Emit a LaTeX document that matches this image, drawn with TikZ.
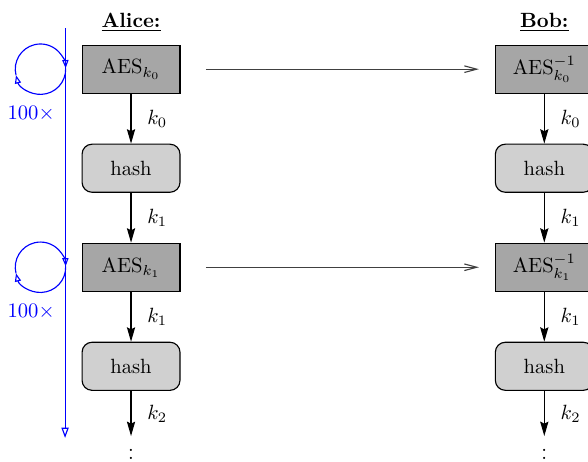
\documentclass[tikz,border=0pt]{standalone}
\usetikzlibrary{positioning}
\usetikzlibrary{arrows.meta}

\begin{document}
\begin{tikzpicture}[
        > = {Stealth[length=7pt,width=4pt,inset=1pt]}, % arrow head style
        node distance = 0.85cm, % gap between boxes
        line width = 0.55pt
    ]

    \tikzstyle{aes}=[draw, fill=gray!70, minimum width=1.67cm, minimum height=0.82cm]
    \tikzstyle{hash}=[aes, fill=gray!37, rounded corners=0.17cm]
    \tikzstyle{keylabel}=[right=0.15cm]
    \tikzstyle{send}=[-{Straight Barb[length=6pt,width=3.2pt]}, black!75, shorten <=0.43cm, shorten >=0.27cm]
    \tikzstyle{iter}=[blue, -{Triangle[open,length=4pt,width=3pt]}]

    \useasboundingbox (0,0) rectangle (10.03,-7.88);

    % Alice
    \node[aes] (A0) at (2.235,-1.18) {AES$_{k_0}$};
    \node[hash] (H0) [below=of A0] {hash};
    \node[aes] (A1) [below=of H0] {AES$_{k_1}$};
    \node[hash] (H1) [below=of A1] {hash};
    \node[inner sep=0] (Adots) [below=0.77cm of H1] {$\vdots$};
    \node (alice) [above=0.1cm of A0] {\underline{\textbf{Alice:}}};

    % Bob
    \node[aes] (B0) [right=5.36cm of A0] {AES$_{k_0}^{-1}$};
    \node[hash] (BH0) [below=of B0] {hash};
    \node[aes] (B1) [below=of BH0] {AES$_{k_1}^{-1}$};
    \node[hash] (BH1) [below=of B1] {hash};
    \node[inner sep=0] (Bdots) [below=0.77cm of BH1] {$\vdots$};
    \node (bob) [above=0.1cm of B0] {\underline{\textbf{Bob:}}};

    \path[->]
        (A0)  edge node[keylabel] {$k_0$} (H0)
        (H0)  edge node[keylabel] {$k_1$} (A1)
        (A1)  edge node[keylabel] {$k_1$} (H1)
        (H1)  edge node[keylabel] {$k_2$} (Adots)
        (B0)  edge node[keylabel] {$k_0$} (BH0)
        (BH0) edge node[keylabel] {$k_1$} (B1)
        (B1)  edge node[keylabel] {$k_1$} (BH1)
        (BH1) edge node[keylabel] {$k_2$} (Bdots);

    \path[send]
        (A0) edge (B0)
        (A1) edge (B1);

    % time line and the 100x loops
    \coordinate (top) at (1.11,-0.48);
    \coordinate (bottom) at (1.11,-7.47);
    \draw[blue, -{Triangle[open,length=5pt,width=3.5pt]}] (top) -- (bottom);

    \coordinate[left=0.70cm of A0] (L0);
    \coordinate[left=0.70cm of A1] (L1);
    \draw[iter] (L0) ++(194:0.43) arc[start angle=194, end angle=2, radius=0.43];
    \draw[iter] (L0) ++(2:0.43) arc[start angle=2, end angle=-166, radius=0.43];
    \draw[iter] (L1) ++(194:0.43) arc[start angle=194, end angle=2, radius=0.43];
    \draw[iter] (L1) ++(2:0.43) arc[start angle=2, end angle=-166, radius=0.43];
    \node[blue, xshift=-0.16cm] (n0) [below=0.5cm of L0] {$100\times$};
    \node[blue, xshift=-0.16cm] (n1) [below=0.5cm of L1] {$100\times$};
\end{tikzpicture}
\end{document}
